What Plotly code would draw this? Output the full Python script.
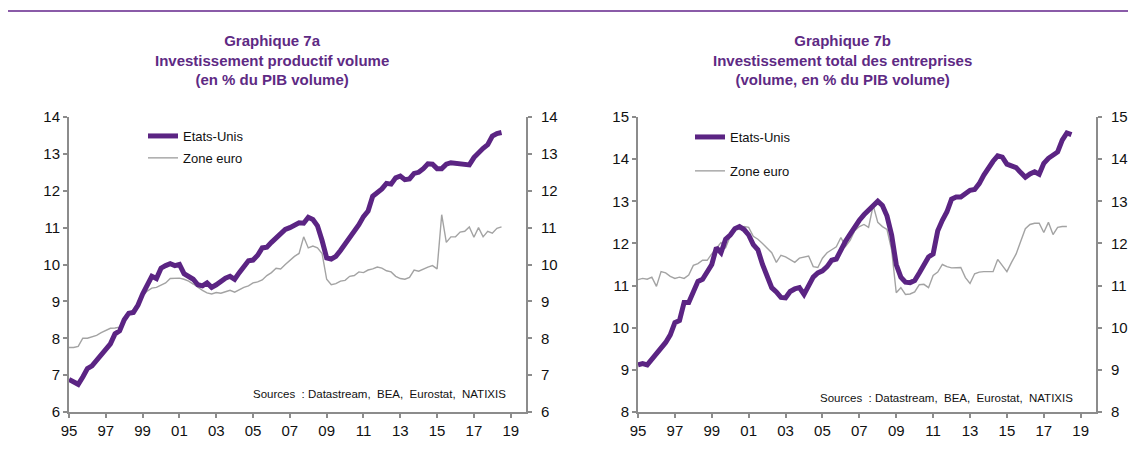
import plotly.graph_objects as go

# ---------------- data (quarterly, starting 1995 Q1) ----------------
start_year = 1995

us_7a = [6.88, 6.83, 6.75, 6.95, 7.18, 7.25, 7.40, 7.55, 7.75, 7.85, 8.12, 8.20,
         8.50, 8.68, 8.70, 8.90, 9.20, 9.45, 9.68, 9.62, 9.90, 9.97, 10.02, 9.97,
         10.00, 9.75, 9.67, 9.60, 9.45, 9.42, 9.50, 9.38, 9.45, 9.55, 9.63, 9.68,
         9.60, 9.78, 9.95, 10.10, 10.12, 10.25, 10.45, 10.47, 10.60, 10.72, 10.85, 10.95,
         11.00, 11.05, 11.13, 11.12, 11.28, 11.22, 11.05, 10.65, 10.18, 10.15, 10.22, 10.38,
         10.55, 10.72, 10.90, 11.08, 11.30, 11.45, 11.85, 11.95, 12.05, 12.20, 12.18, 12.35,
         12.40, 12.30, 12.32, 12.47, 12.50, 12.60, 12.73, 12.72, 12.60, 12.60, 12.72, 12.76,
         12.74, 12.72, 12.72, 12.70, 12.90, 13.05, 13.15, 13.25, 13.48, 13.55, 13.58]

ez_7a = [7.75, 7.75, 7.78, 8.00, 8.00, 8.03, 8.08, 8.15, 8.22, 8.27, 8.28, 8.30,
         8.55, 8.68, 8.78, 8.95, 9.15, 9.28, 9.36, 9.38, 9.45, 9.50, 9.62, 9.63,
         9.63, 9.60, 9.55, 9.47, 9.38, 9.30, 9.23, 9.20, 9.24, 9.22, 9.26, 9.30,
         9.25, 9.32, 9.38, 9.42, 9.50, 9.53, 9.58, 9.70, 9.78, 9.90, 9.88, 10.00,
         10.12, 10.22, 10.30, 10.75, 10.45, 10.50, 10.45, 10.30, 9.60, 9.45, 9.48, 9.55,
         9.57, 9.68, 9.70, 9.80, 9.78, 9.85, 9.88, 9.93, 9.90, 9.83, 9.80, 9.68,
         9.62, 9.60, 9.65, 9.85, 9.82, 9.88, 9.93, 9.97, 9.88, 11.35, 10.60, 10.75,
         10.75, 10.88, 10.90, 11.02, 10.74, 11.00, 10.75, 10.90, 10.85, 10.98, 11.02]

us_7b = [9.12, 9.15, 9.12, 9.25, 9.38, 9.50, 9.65, 9.83, 10.12, 10.17, 10.60, 10.60,
         10.85, 11.10, 11.15, 11.32, 11.50, 11.90, 11.78, 12.10, 12.20, 12.35, 12.40, 12.33,
         12.20, 11.97, 11.85, 11.50, 11.20, 10.95, 10.85, 10.72, 10.71, 10.86, 10.92, 10.95,
         10.79, 10.98, 11.20, 11.30, 11.35, 11.45, 11.60, 11.63, 11.85, 12.05, 12.22, 12.40,
         12.55, 12.68, 12.80, 12.92, 13.00, 12.90, 12.65, 12.20, 11.50, 11.20, 11.08, 11.07,
         11.12, 11.30, 11.50, 11.68, 11.75, 12.30, 12.55, 12.75, 13.05, 13.10, 13.10, 13.20,
         13.26, 13.28, 13.42, 13.62, 13.80, 13.95, 14.08, 14.05, 13.88, 13.83, 13.80, 13.68,
         13.57, 13.65, 13.70, 13.64, 13.90, 14.02, 14.08, 14.17, 14.45, 14.62, 14.58]

ez_7b = [11.14, 11.17, 11.15, 11.20, 10.98, 11.33, 11.30, 11.22, 11.17, 11.20, 11.17, 11.25,
         11.48, 11.52, 11.60, 11.60, 11.75, 11.88, 12.02, 11.90, 12.17, 12.35, 12.33, 12.40,
         12.38, 12.17, 12.10, 12.00, 11.90, 11.78, 11.55, 11.72, 11.68, 11.62, 11.55, 11.65,
         11.68, 11.70, 11.45, 11.43, 11.65, 11.78, 11.85, 11.92, 12.14, 11.93, 12.07, 12.30,
         12.40, 12.45, 12.38, 12.90, 12.50, 12.40, 12.33, 11.85, 10.83, 10.95, 10.79, 10.80,
         10.85, 11.02, 11.03, 10.95, 11.24, 11.32, 11.50, 11.45, 11.42, 11.43, 11.43, 11.19,
         11.05, 11.28, 11.32, 11.33, 11.33, 11.33, 11.62, 11.48, 11.33, 11.55, 11.75, 12.05,
         12.35, 12.45, 12.48, 12.48, 12.26, 12.50, 12.21, 12.38, 12.40, 12.40]

tick_years = [1995, 1997, 1999, 2001, 2003, 2005, 2007, 2009, 2011, 2013, 2015, 2017, 2019]
tick_labels = ["95", "97", "99", "01", "03", "05", "07", "09", "11", "13", "15", "17", "19"]

series_names = ["Etats-Unis", "Zone euro"]
titles = ["<b>Graphique 7a<br>Investissement productif volume<br>(en % du PIB volume)</b>",
          "<b>Graphique 7b<br>Investissement total des entreprises<br>(volume, en % du PIB volume)</b>"]
source_text = "Sources  : Datastream,  BEA,  Eurostat,  NATIXIS"


def quarters(values):
    return [start_year + 0.25 * i for i in range(len(values))]


# ---------------- styling ----------------
WIN_W, WIN_H = 1136, 455
OFF = 8                      # page body margin
W, H = WIN_W - OFF, WIN_H - OFF
PURPLE = "#5b2483"
TITLE_PURPLE = "#5e2a84"
GREY = "#a3a3a3"
AXIS = "#8c8c8c"
FONT = "Liberation Sans, Arial, sans-serif"


def fx(p):
    """window pixel x -> paper fraction"""
    return (p - OFF) / W


def fy(p):
    """window pixel y -> paper fraction"""
    return 1 - (p - OFF) / H


fig = go.Figure()

# left chart
fig.add_trace(go.Scatter(x=quarters(us_7a), y=us_7a, name=series_names[0], mode="lines",
                         line=dict(color=PURPLE, width=5), xaxis="x", yaxis="y3",
                         legend="legend", legendgroup="L1"))
fig.add_trace(go.Scatter(x=quarters(ez_7a), y=ez_7a, name=series_names[1], mode="lines",
                         line=dict(color=GREY, width=1.4), xaxis="x", yaxis="y",
                         legend="legend", legendgroup="L2"))
# right chart
fig.add_trace(go.Scatter(x=quarters(us_7b), y=us_7b, name=series_names[0], mode="lines",
                         line=dict(color=PURPLE, width=5), xaxis="x2", yaxis="y4",
                         legend="legend2", legendgroup="R1"))
fig.add_trace(go.Scatter(x=quarters(ez_7b), y=ez_7b, name=series_names[1], mode="lines",
                         line=dict(color=GREY, width=1.4), xaxis="x2", yaxis="y2",
                         legend="legend2", legendgroup="R2"))

common = dict(showline=True, linecolor=AXIS, linewidth=2, ticks="outside", ticklen=4,
              tickwidth=1.5, tickcolor=AXIS, showgrid=False, zeroline=False,
              automargin=False,
              tickfont=dict(family=FONT, size=15, color="#111111"))

ydom = [fy(412), fy(117)]
xr = [1995, 2019.83]

fig.update_layout(
    width=W, height=H,
    margin=dict(l=0, r=0, t=0, b=0, autoexpand=False),
    paper_bgcolor="white", plot_bgcolor="white",
    font=dict(family=FONT),
    xaxis=dict(domain=[fx(69), fx(526)], range=xr, anchor="y",
               tickvals=tick_years, ticktext=tick_labels, **common),
    yaxis=dict(domain=ydom, range=[6, 14], dtick=1, anchor="x", **common),
    yaxis3=dict(range=[6, 14], dtick=1, anchor="x", overlaying="y", side="right",
                ticklabelstandoff=6, **common),
    xaxis2=dict(domain=[fx(638), fx(1096)], range=xr, anchor="y2",
                tickvals=tick_years, ticktext=tick_labels, **common),
    yaxis2=dict(domain=ydom, range=[8, 15], dtick=1, anchor="x2", **common),
    yaxis4=dict(range=[8, 15], dtick=1, anchor="x2", overlaying="y2", side="right",
                ticklabelstandoff=6, **common),
    legend=dict(x=fx(143), y=fy(121), xanchor="left", yanchor="top",
                bgcolor="rgba(0,0,0,0)", tracegroupgap=2,
                font=dict(family=FONT, size=13, color="#111111")),
    legend2=dict(x=fx(690), y=fy(122), xanchor="left", yanchor="top",
                 bgcolor="rgba(0,0,0,0)", tracegroupgap=14,
                 font=dict(family=FONT, size=13, color="#111111")),
    showlegend=True,
)

# top rule
fig.add_shape(type="line", xref="paper", yref="paper", x0=0, x1=1, y0=fy(11), y1=fy(11),
              line=dict(color="#8a5ba8", width=2))

# titles
for cx, t in zip([272, 842], titles):
    fig.add_annotation(x=fx(cx), y=fy(60), xref="paper", yref="paper", text=t,
                       showarrow=False, xanchor="center", yanchor="middle",
                       font=dict(family=FONT, size=15, color=TITLE_PURPLE))

# sources
for rx, sy in [(508, 394), (1075, 398)]:
    fig.add_annotation(x=fx(rx), y=fy(sy), xref="paper", yref="paper", text=source_text,
                       showarrow=False, xanchor="right", yanchor="middle",
                       font=dict(family=FONT, size=11.5, color="#111111"))

fig.write_html("out.html")
